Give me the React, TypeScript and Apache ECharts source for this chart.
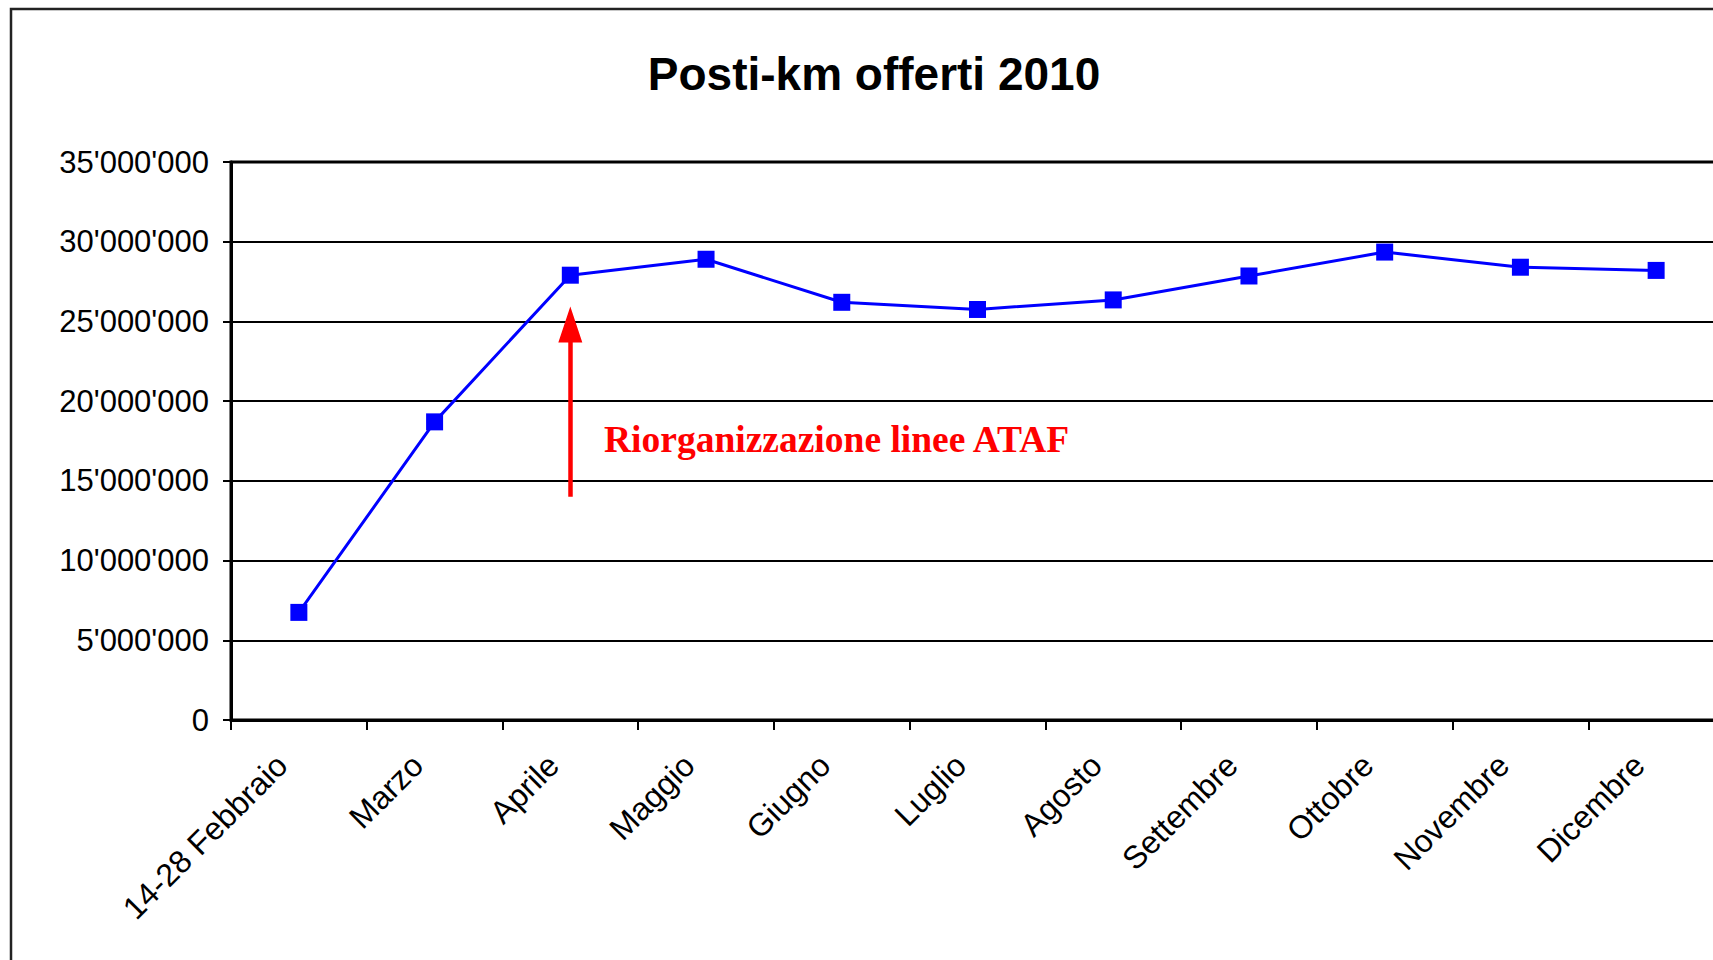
import React, { useEffect, useRef } from "react";
import * as echarts from "echarts";

const categories = [
  "14-28 Febbraio", "Marzo", "Aprile", "Maggio", "Giugno", "Luglio",
  "Agosto", "Settembre", "Ottobre", "Novembre", "Dicembre",
];
const postiKm = [
  6750000, 18700000, 27900000, 28900000, 26200000, 25750000,
  26350000, 27850000, 29350000, 28400000, 28200000,
];
const arrowCategory = "Aprile";
const arrowFrom = 14000000;
const arrowTo = 24800000;
const titleText = "Posti-km offerti 2010";
const annotationText = "Riorganizzazione linee ATAF";

const fmt = (v: number) =>
  String(Math.round(v)).replace(/\B(?=(\d{3})+(?!\d))/g, "'");

export default function App() {
  const ref = useRef<HTMLDivElement>(null);
  useEffect(() => {
    document.body.style.margin = "0";
    const chart = echarts.init(ref.current!, null, { renderer: "svg" });
    const sans = "'Liberation Sans', Arial, sans-serif";
    chart.setOption({
      animation: false,
      backgroundColor: "#fff",
      title: {
        text: titleText,
        left: 869,
        top: 46,
        textAlign: "center",
        textStyle: { fontFamily: sans, fontWeight: "bold", fontSize: 46, color: "#000" },
      },
      graphic: [
        {
          type: "rect",
          shape: { x: 11, y: 9, width: 1800, height: 1000 },
          style: { fill: "none", stroke: "#222", lineWidth: 2.5 },
          silent: true,
        },
        {
          type: "text",
          x: 604,
          y: 439,
          style: {
            text: annotationText,
            fill: "#ff0000",
            font: "bold 37.5px 'Liberation Serif', 'Times New Roman', serif",
            verticalAlign: "middle",
            align: "left",
          },
        },
      ],
      grid: {
        left: 231,
        top: 162,
        width: 1493,
        height: 558,
        outerBoundsMode: "none",
        containLabel: false,
        show: true,
        borderColor: "#000",
        borderWidth: 3,
        backgroundColor: "transparent",
      },
      xAxis: {
        type: "category",
        data: categories,
        boundaryGap: true,
        axisLine: { lineStyle: { color: "#000", width: 3 } },
        axisTick: { show: true, length: 10, lineStyle: { color: "#000", width: 2 } },
        axisLabel: {
          rotate: 45,
          margin: 23,
          padding: [0, 24, 0, 0],
          fontFamily: sans,
          fontSize: 32,
          color: "#000",
          interval: 0,
        },
      },
      yAxis: {
        type: "value",
        min: 0,
        max: 35000000,
        interval: 5000000,
        axisLine: { show: true, lineStyle: { color: "#000", width: 3 } },
        axisTick: { show: true, length: 8, lineStyle: { color: "#000", width: 2 } },
        axisLabel: {
          formatter: (v: number) => fmt(v),
          margin: 22,
          fontFamily: sans,
          fontSize: 31,
          color: "#000",
        },
        splitLine: { lineStyle: { color: "#000", width: 1.8 } },
      },
      series: [
        {
          type: "line",
          data: postiKm,
          symbol: "rect",
          symbolSize: 17,
          lineStyle: { color: "#0000ff", width: 3 },
          itemStyle: { color: "#0000ff" },
          markLine: {
            silent: true,
            symbol: ["none", "triangle"],
            symbolSize: [24, 36],
            label: { show: false },
            lineStyle: { color: "#ff0000", width: 4.5, type: "solid" },
            data: [
              [
                { xAxis: arrowCategory, yAxis: arrowFrom },
                { xAxis: arrowCategory, yAxis: arrowTo },
              ],
            ],
          },
        },
      ],
    });
    return () => chart.dispose();
  }, []);
  return (
    <div
      ref={ref}
      style={{ position: "absolute", left: 0, top: 0, width: 1713, height: 960 }}
    />
  );
}
